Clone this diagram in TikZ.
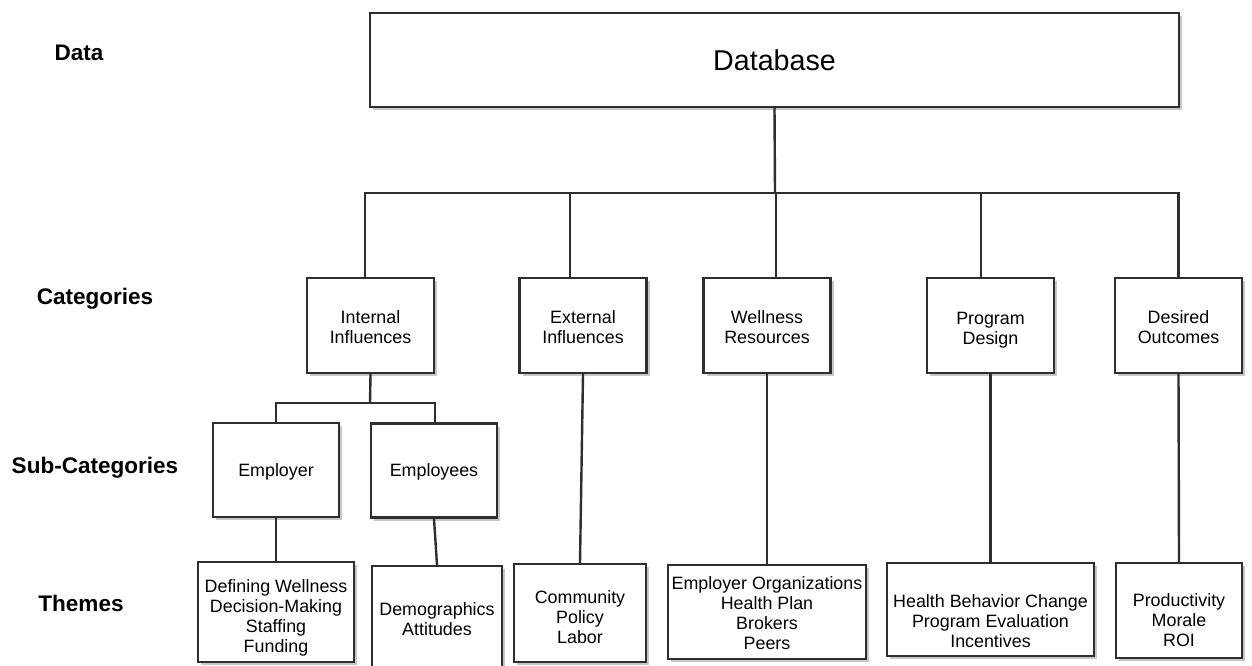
\documentclass[tikz,border=0pt]{standalone}
\usepackage{fontspec}
\setmainfont{Liberation Sans}
\usetikzlibrary{shadows}

% raises the first line of a box to push its text down
\newcommand{\dropline}[1]{\rule{0pt}{#1}}

\begin{document}
\begin{tikzpicture}[x=0.75pt,y=-0.75pt]
\tikzstyle{level}=[font=\fontsize{16.9}{19}\selectfont\bfseries]
\tikzstyle{box}=[rectangle,draw=black!82,line width=1.8pt,fill=white,align=center,inner sep=0pt,
                 font=\fontsize{13.4}{15}\selectfont,
                 drop shadow={shadow xshift=2.5pt,shadow yshift=-2.5pt,fill=black!22,opacity=1}]
\tikzstyle{category}=[box,minimum width=95.25pt,minimum height=71.25pt]
\tikzstyle{subcategory}=[box,minimum width=94.5pt,minimum height=70.5pt]
\tikzstyle{link}=[draw=black!82,line width=1.8pt]

\useasboundingbox (0,0) rectangle (1252,665);

%level labels.
\node[level] (data_label) at (79,53) {Data};
\node[level] (categories_label) at (95,299) {Categories};
\node[level] (subcategories_label) at (95,468) {Sub-Categories};
\node[level] (themes_label) at (81,603) {Themes};

%data.
\node[box,minimum width=606.75pt,minimum height=70.5pt,font=\fontsize{21.5}{24}\selectfont] (database) at (774.5,60) {Database};

%categories.
\node[category] (internal_influences) at (370.5,325.5) {\dropline{12.8pt}Internal\\Influences};
\node[category] (external_influences) at (583,325.5) {\dropline{12.8pt}External\\Influences};
\node[category] (wellness_resources) at (767,325.5) {\dropline{12.8pt}Wellness\\Resources};
\node[category] (program_design) at (990.5,325.5) {\dropline{15.8pt}Program\\Design};
\node[category] (desired_outcomes) at (1178.5,325.5) {\dropline{12.8pt}Desired\\Outcomes};

\coordinate (category_bus) at (775,193);
\draw[link] (database.south) -- (category_bus);
\draw[link] ([xshift=-4pt]internal_influences.north) |- (category_bus) -| (desired_outcomes.north);
\draw[link] ([xshift=-9.75pt]external_influences.north) -- ([xshift=-9.75pt]external_influences.north |- category_bus);
\draw[link] ([xshift=6.75pt]wellness_resources.north) -- ([xshift=6.75pt]wellness_resources.north |- category_bus);
\draw[link] ([xshift=-7pt]program_design.north) -- ([xshift=-7pt]program_design.north |- category_bus);

%sub-categories.
\node[subcategory] (employer) at (276,470) {\dropline{11.8pt}Employer};
\node[subcategory] (employees) at (434,470.5) {\dropline{11.8pt}Employees};

\coordinate (subcategory_bus) at (370,403);
\draw[link] (internal_influences.south) -- (subcategory_bus);
\draw[link] (employer.north) |- (subcategory_bus) -| ([xshift=0.75pt]employees.north);

%themes.
\node[box,minimum width=117pt,minimum height=75pt] (employer_themes) at (276,612) {\dropline{18.8pt}Defining Wellness\\Decision-Making\\Staffing\\Funding};
\node[box,minimum width=97.5pt,minimum height=75.75pt] (employees_themes) at (437,616.5) {\dropline{13.6pt}Demographics\\Attitudes};
\node[box,minimum width=99pt,minimum height=73.5pt] (external_themes) at (580,613) {\dropline{15.8pt}Community\\Policy\\Labor};
\node[box,minimum width=148.5pt,minimum height=70.5pt] (wellness_themes) at (767,612) {\dropline{11.3pt}Employer Organizations\\Health Plan\\Brokers\\Peers};
\node[box,minimum width=155.25pt,minimum height=69.75pt] (program_themes) at (990.5,609.5) {\dropline{27pt}Health Behavior Change\\Program Evaluation\\Incentives};
\node[box,minimum width=94.5pt,minimum height=71.25pt] (outcome_themes) at (1179,610.5) {\dropline{24.8pt}Productivity\\Morale\\ROI};

\draw[link] (employer.south) -- (employer_themes.north);
\draw[link] (employees.south) -- (employees_themes.north);
\draw[link] (external_influences.south) -- (external_themes.north);
\draw[link] (wellness_resources.south) -- (wellness_themes.north);
\draw[link] (program_design.south) -- (program_themes.north);
\draw[link] (desired_outcomes.south) -- (outcome_themes.north);

\end{tikzpicture}
\end{document}
